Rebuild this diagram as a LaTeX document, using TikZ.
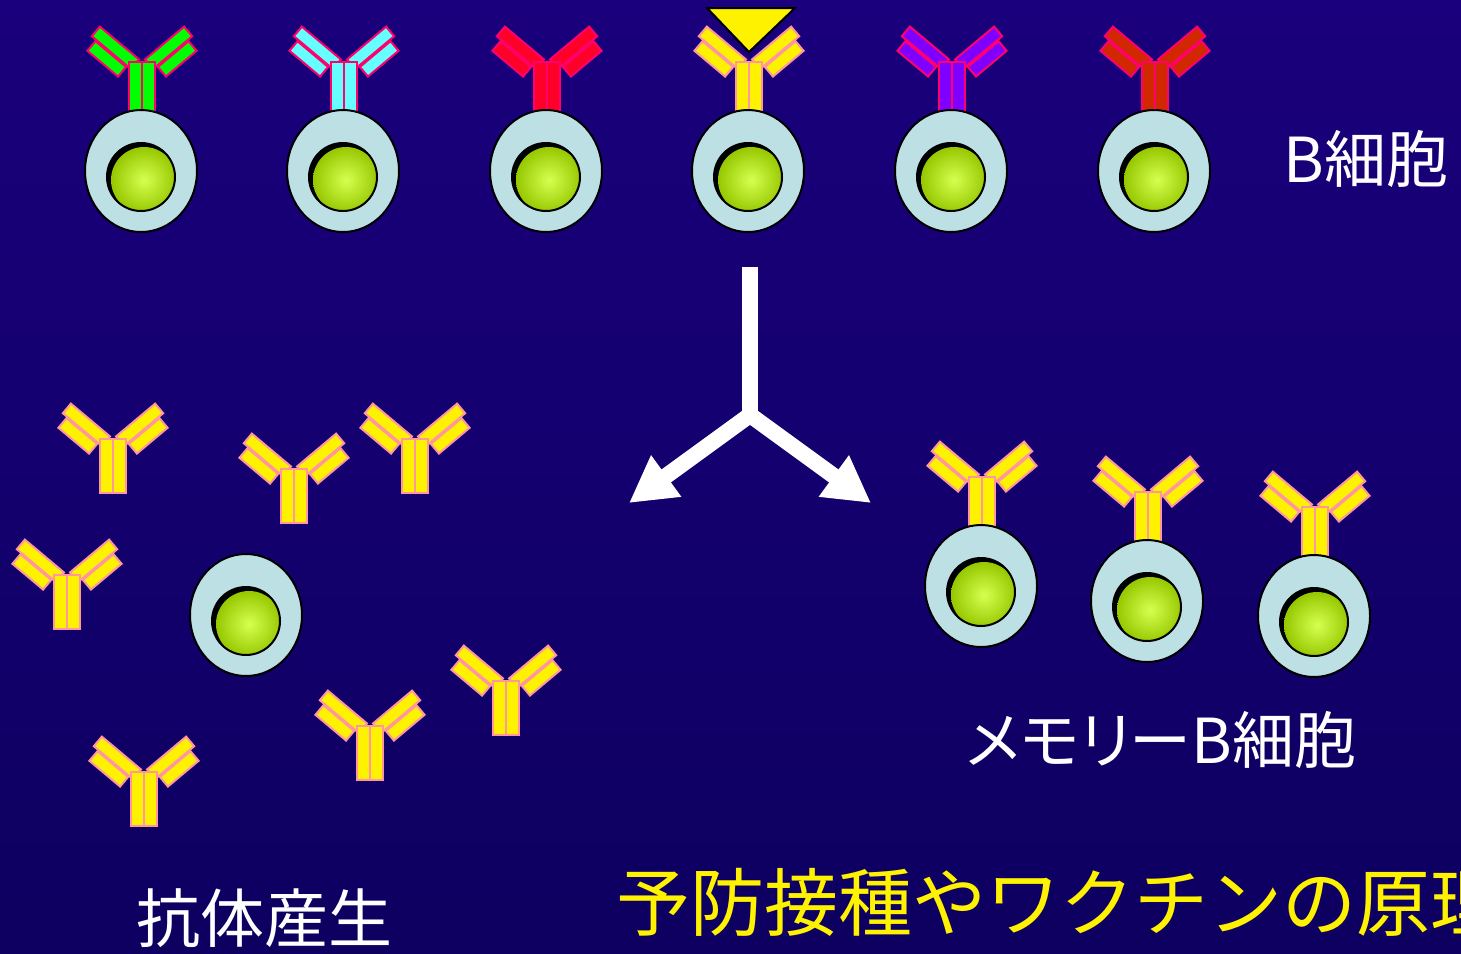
\documentclass[tikz,border=0pt]{standalone}
\usepackage{fontspec}
\newfontfamily\jpfont{Noto Sans CJK JP}
\newfontfamily\jppfont[RawFeature=+palt]{Noto Sans CJK JP}
\usetikzlibrary{arrows.meta}

\definecolor{bgtop}{RGB}{26,0,124}
\definecolor{bgbottom}{RGB}{13,0,96}
\definecolor{cellblue}{RGB}{189,224,228}
\definecolor{nucleuslight}{RGB}{214,255,80}
\definecolor{nucleusdark}{RGB}{150,200,0}
\definecolor{abpink}{RGB}{255,150,160}
\definecolor{abrose}{RGB}{255,0,110}
\definecolor{abgreen}{RGB}{0,255,0}
\definecolor{abcyan}{RGB}{102,255,255}
\definecolor{abred}{RGB}{255,0,40}
\definecolor{abpurple}{RGB}{128,0,255}
\definecolor{abrust}{RGB}{210,40,0}

\begin{document}
\begin{tikzpicture}[x=0.5pt,y=0.5pt]
  \tikzset{
    % Y-shaped antibody, origin at the top of the two stems
    antibody/.pic={
      \foreach \side in {1,-1}{
        \begin{scope}[xscale=\side, rotate=140]
          \path[pic actions] (4,0) rectangle (55,12.5);
          \path[pic actions] (9,14) rectangle (49,26.5);
        \end{scope}
      }
      \path[pic actions] (-13,0) rectangle (0,-54);
      \path[pic actions] (0,0) rectangle (13,-54);
    },
    % B cell with its nucleus
    bcell/.pic={
      \draw[fill=cellblue, line width=1pt] (0,0) ellipse [x radius=56, y radius=61];
      \fill[black] (0,-6) circle [radius=34];
      \begin{scope}
        \clip (0,-6) circle [radius=34];
        \shade[inner color=nucleuslight, outer color=nucleusdark] (3,-9) circle [radius=33];
      \end{scope}
      \draw[line width=1pt] (0,-6) circle [radius=34];
    },
    abyellow/.style={fill=yellow, draw=abpink, line width=1pt},
    whitetext/.style={font=\jpfont\fontsize{31}{37}\selectfont, text=white, inner sep=0pt, anchor=base west},
    fork/.style={draw=white, line width=8pt, line join=miter, {Triangle[length=23pt,width=24pt]}-{Triangle[length=23pt,width=24pt]}},
  }

  \useasboundingbox (0,0) rectangle (1461,-953);
  \shade[top color=bgtop, bottom color=bgbottom] (0,0) rectangle (1461,-953);

  % top row: one B cell for each antibody type
  \foreach \x/\fc/\dc [count=\i] in {141/abgreen/abrose, 343/abcyan/abrose, 546/abred/abrose,
      748/yellow/abpink, 951/abpurple/abrose, 1154/abrust/abrose}{
    \pic[fill=\fc, draw=\dc, line width=1pt] at (\x+1,-62) {antibody};
    \pic (topcell\i) at (\x,-171) {bcell};
  }
  \draw[fill=yellow, line width=1pt] (707,-8) -- (795,-8) -- (749,-52) -- cycle;
  \node[whitetext] (bcelltext) at (1283,-182) {B細胞};

  % selection splits into two ways
  \coordinate (forktop) at (750,-267);
  \coordinate (split) at (750,-415);
  \coordinate (lefttip) at (629,-503);
  \coordinate (righttip) at (871,-503);
  \draw[draw=white, line width=8pt] (forktop) -- (split);
  \draw[fork] (lefttip) -- (split) -- (righttip);

  % antibody production
  \pic (plasmacell) at (246,-615) {bcell};
  \foreach \x/\y in {113/439, 294/469, 415/439, 67/575, 506/681, 370/726, 144/772}
    \pic[abyellow] at (\x,-\y) {antibody};
  \node[whitetext, font=\jpfont\fontsize{32}{38}\selectfont] (antibodytext) at (136,-942) {抗体産生};

  % memory B cells
  \foreach \x/\y [count=\i] in {981/586, 1147/601, 1314/616}{
    \pic[abyellow] at (\x+1,-\y+109) {antibody};
    \pic (memcell\i) at (\x,-\y) {bcell};
  }
  \node[whitetext, font=\jppfont\fontsize{31}{37}\selectfont] (memorytext) at (966,-763) {メモリーB細胞};

  \node[whitetext, text=yellow, font=\jpfont\fontsize{37}{44}\selectfont] (vaccinetext) at (616,-930) {予防接種やワクチンの原理};
\end{tikzpicture}
\end{document}
